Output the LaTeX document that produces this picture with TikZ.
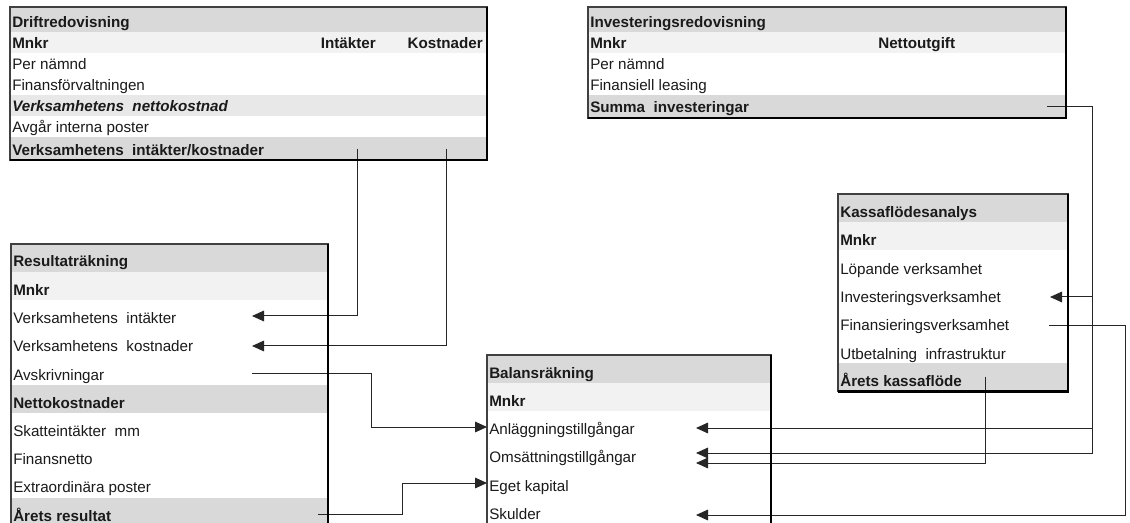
\documentclass[tikz,border=0pt]{standalone}
\usepackage{fontspec}
\setmainfont{Liberation Sans}
\usetikzlibrary{arrows.meta}
\definecolor{hdr}{HTML}{D9D9D9}
\definecolor{subr}{HTML}{F2F2F2}
\definecolor{subm}{HTML}{E8E8E8}
\definecolor{txt}{HTML}{1A1A1A}
\begin{document}
\begin{tikzpicture}[x=0.75pt,y=-0.75pt,
  lbl/.style={anchor=base west,inner sep=0pt,text=txt,font=\fontsize{11.4pt}{13pt}\selectfont},
  lblb/.style={lbl,font=\fontsize{11.4pt}{13pt}\selectfont\bfseries},
  lblr/.style={lblb,anchor=base east},
  frame/.style={draw=black!75,line width=0.8pt},
  shadow/.style={draw=black,line width=2pt},
  conn/.style={draw=black!85,line width=0.75pt},
  arr/.style={conn,-{Triangle[length=9pt,width=8pt]}}]
\useasboundingbox (0,0) rectangle (1130,523);
\clip (0,0) rectangle (1130,523);
\fill[white] (0,0) rectangle (1130,523);

% ---------- Driftredovisning ----------
\fill[hdr] (10,7) rectangle (487,32);
\fill[subr] (10,32) rectangle (487,53);
\fill[subm] (10,95) rectangle (487,116);
\fill[hdr] (10,137) rectangle (487,160);
\node[lblb] (dh) at (12,28) {Driftredovisning};
\node[lblb] (dm) at (12,49) {Mnkr};
\node[lblr] (dci) at (376,49) {Intäkter};
\node[lblr] (dck) at (483,49) {Kostnader};
\node[lbl] (dp) at (12,70) {Per nämnd};
\node[lbl] (df) at (12,91) {Finansförvaltningen};
\node[lbl,font=\fontsize{11.4pt}{13pt}\selectfont\bfseries\itshape] (dn) at (12,112) {Verksamhetens\ \ nettokostnad};
\node[lbl] (da) at (12,133) {Avgår interna poster};
\node[lblb] (dv) at (12,156) {Verksamhetens\ \ intäkter/kostnader};

% ---------- Investeringsredovisning ----------
\fill[hdr] (588,7) rectangle (1066,32);
\fill[subr] (588,32) rectangle (1066,53);
\fill[hdr] (588,95) rectangle (1066,118);
\node[lblb] (ih) at (590,28) {Investeringsredovisning};
\node[lblb] (im) at (590,49) {Mnkr};
\node[lblb] (in) at (878,49) {Nettoutgift};
\node[lbl] (ip) at (590,70) {Per nämnd};
\node[lbl] (il) at (590,91) {Finansiell leasing};
\node[lblb] (is) at (590,113) {Summa\ \ investeringar};

% ---------- Kassaflödesanalys ----------
\fill[hdr] (838,194) rectangle (1068,222.2);
\fill[subr] (838,222.2) rectangle (1068,250.4);
\fill[hdr] (838,363.2) rectangle (1068,391.4);
\node[lblb] (kh) at (840,218) {Kassaflödesanalys};
\node[lblb] (km) at (840,246) {Mnkr};
\node[lbl] (kl) at (840,275) {Löpande verksamhet};
\node[lbl] (ki) at (840,303) {Investeringsverksamhet};
\node[lbl] (kf) at (840,331) {Finansieringsverksamhet};
\node[lbl] (ku) at (840,359) {Utbetalning\ \ infrastruktur};
\node[lblb] (ka) at (840,387) {Årets kassaflöde};

% ---------- Resultaträkning ----------
\fill[hdr] (11,244) rectangle (328,272.2);
\fill[subr] (11,272.2) rectangle (328,300.4);
\fill[hdr] (11,385) rectangle (328,413.2);
\fill[hdr] (11,497.8) rectangle (328,526);
\node[lblb] (rh) at (13,267) {Resultaträkning};
\node[lblb] (rm) at (13,295.4) {Mnkr};
\node[lbl] (ri) at (13,323.6) {Verksamhetens\ \ intäkter};
\node[lbl] (rk) at (13,351.8) {Verksamhetens\ \ kostnader};
\node[lbl] (ra) at (13,380) {Avskrivningar};
\node[lblb] (rn) at (13,408.2) {Nettokostnader};
\node[lbl] (rs) at (13,436.4) {Skatteintäkter\ \ mm};
\node[lbl] (rf) at (13,464.6) {Finansnetto};
\node[lbl] (re) at (13,492.8) {Extraordinära poster};
\node[lblb] (rr) at (13,521) {Årets resultat};

% ---------- Balansräkning ----------
\fill[hdr] (487,355) rectangle (771,383.2);
\fill[subr] (487,383.2) rectangle (771,411.4);
\node[lblb] (bh) at (489,378.2) {Balansräkning};
\node[lblb] (bm) at (489,406.4) {Mnkr};
\node[lbl] (ba) at (489,434.6) {Anläggningstillgångar};
\node[lbl] (bo) at (489,462.8) {Omsättningstillgångar};
\node[lbl] (be) at (489,491) {Eget kapital};
\node[lbl] (bs) at (489,519.2) {Skulder};

% ---------- connector points ----------
\coordinate (d1) at (357,149);
\coordinate (d2) at (446,149);
\coordinate (r1) at (252,316);
\coordinate (r2) at (252,346);
\coordinate (r3) at (252,374);
\coordinate (r4) at (318,514);
\coordinate (m1) at (371,374);
\coordinate (m2) at (402,514);
\coordinate (b1) at (487,427);
\coordinate (b3) at (487,483);
\coordinate (b1r) at (696,428);
\coordinate (b2r) at (696,453);
\coordinate (b2s) at (696,463);
\coordinate (b4r) at (696,515);
\coordinate (s1) at (1047,107);
\coordinate (v1) at (1092,297);
\coordinate (v2) at (1092,428);
\coordinate (v3) at (1092,453);
\coordinate (k2) at (1050,297);
\coordinate (k3) at (1049,326);
\coordinate (k3r) at (1125,326);
\coordinate (k5) at (985,377);

% ---------- connectors ----------
\draw[arr] (d1) |- (r1);
\draw[arr] (d2) |- (r2);
\draw[arr] (r3) -- (m1) |- (b1);
\draw[arr] (r4) -- (m2) |- (b3);
\draw[arr] (s1) -| (v3) -- (b2r);
\draw[arr] (v1) -- (k2);
\draw[arr] (v2) -- (b1r);
\draw[arr] (k3) -- (k3r) |- (b4r);
\draw[arr] (k5) |- (b2s);

% ---------- frames ----------
\draw[frame] (10,7) rectangle (487,160);
\draw[shadow] (487,7) -- (487,160) -- (10,160);
\draw[frame] (588,7) rectangle (1066,118);
\draw[shadow] (1066,7) -- (1066,118) -- (588,118);
\draw[frame] (838,194) rectangle (1068,391.4);
\draw[shadow] (1068,194) -- (1068,391.4) -- (838,391.4);
\draw[frame] (11,244) rectangle (328,540);
\draw[shadow] (328,244) -- (328,540);
\draw[frame] (487,355) rectangle (771,540);
\draw[shadow] (771,355) -- (771,540);
\end{tikzpicture}
\end{document}
